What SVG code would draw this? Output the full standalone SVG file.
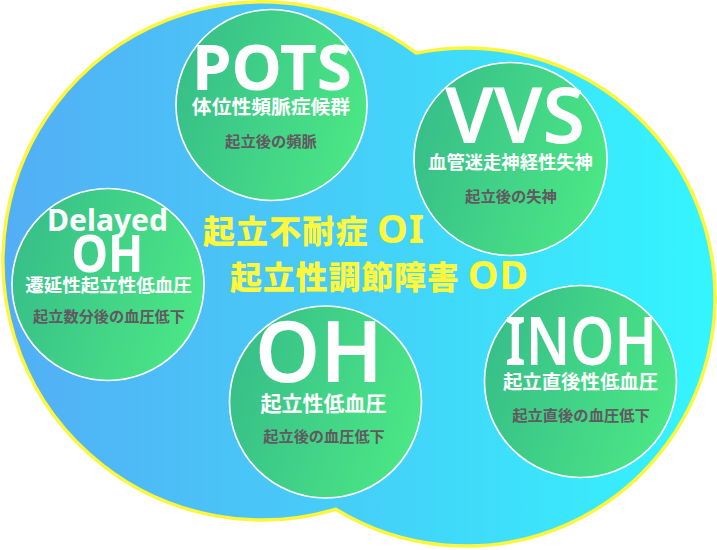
<svg xmlns="http://www.w3.org/2000/svg" width="717" height="550" viewBox="0 0 717 550">
  <defs>
    <linearGradient id="blobGrad" gradientUnits="userSpaceOnUse" x1="0" y1="0" x2="717" y2="0">
      <stop offset="0" stop-color="#53AEF5"/>
      <stop offset="0.5" stop-color="#45CFF8"/>
      <stop offset="1" stop-color="#33F6FE"/>
    </linearGradient>
    <linearGradient id="greenGrad" x1="0" y1="0.3" x2="1" y2="0.6">
      <stop offset="0" stop-color="#37BE89"/>
      <stop offset="1" stop-color="#4BE785"/>
    </linearGradient>
  </defs>
  <style>
    .node-circle { fill: url(#greenGrad); stroke: #FFFFFF; stroke-width: 1.6; }
    .big { font-family: "Noto Sans", "Liberation Sans", sans-serif; fill: #FFFFFF; text-anchor: middle; }
    .sub { font-family: "Noto Sans CJK JP", "Noto Sans", sans-serif; font-weight: 700; fill: #FFFFFF; text-anchor: middle; }
    .desc { font-family: "Noto Sans CJK JP", "Noto Sans", sans-serif; font-weight: 700; fill: #62585F; text-anchor: middle; }
    .title { font-family: "Noto Sans CJK JP", "Noto Sans", sans-serif; font-weight: 900; fill: #FFF73C; font-size: 32px; }
    .latin { font-family: "Noto Sans", "Liberation Sans", sans-serif; font-weight: 700; font-size: 39px; }
  </style>

  <g id="background">
    <path d="M 416.3 53 A 259 259 0 1 0 335.8 509.25 A 249 249 0 1 0 416.3 53 Z" fill="url(#blobGrad)" stroke="#FFF53A" stroke-width="3.5" stroke-linejoin="miter"/>
  </g>

  <g id="titles">
    <text class="title" x="203" y="243" textLength="221">起立不耐症 <tspan class="latin">OI</tspan></text>
    <text class="title" x="230" y="289" textLength="298">起立性調節障害 <tspan class="latin">OD</tspan></text>
  </g>

  <g id="node-pots">
    <circle class="node-circle" cx="271.5" cy="105" r="95.5"/>
    <text class="big" x="272" y="90" font-size="63" font-weight="700" textLength="160" lengthAdjust="spacingAndGlyphs">POTS</text>
    <text class="sub" x="271" y="113.5" font-size="19.8">体位性頻脈症候群</text>
    <text class="desc" x="271" y="147" font-size="15.3">起立後の頻脈</text>
  </g>

  <g id="node-vvs">
    <circle class="node-circle" cx="510.5" cy="159" r="96.5"/>
    <text class="big" x="515" y="143" font-size="77" font-weight="600" textLength="140" lengthAdjust="spacingAndGlyphs">VVS</text>
    <text class="sub" x="510.5" y="168.5" font-size="18.3">血管迷走神経性失神</text>
    <text class="desc" x="511" y="202" font-size="15.3">起立後の失神</text>
  </g>

  <g id="node-delayed-oh">
    <circle class="node-circle" cx="108" cy="284.5" r="96"/>
    <text class="big" x="107.5" y="231" font-size="30" font-weight="700" textLength="121" lengthAdjust="spacingAndGlyphs">Delayed</text>
    <text class="big" x="107.5" y="272" font-size="52" font-weight="700" textLength="72" lengthAdjust="spacingAndGlyphs">OH</text>
    <text class="sub" x="108.5" y="291.5" font-size="18.5">遷延性起立性低血圧</text>
    <text class="desc" x="109" y="322" font-size="15.2">起立数分後の血圧低下</text>
  </g>

  <g id="node-oh">
    <circle class="node-circle" cx="325.5" cy="402" r="96"/>
    <text class="big" x="319" y="382" font-size="84" font-weight="600" textLength="128" lengthAdjust="spacingAndGlyphs">OH</text>
    <text class="sub" x="323.5" y="410.5" font-size="21">起立性低血圧</text>
    <text class="desc" x="324" y="442" font-size="15.2">起立後の血圧低下</text>
  </g>

  <g id="node-inoh">
    <circle class="node-circle" cx="580.5" cy="381.5" r="96"/>
    <text class="big" x="581" y="365" font-size="66" font-weight="600" textLength="152" lengthAdjust="spacingAndGlyphs">INOH</text>
    <text class="sub" x="580.5" y="388.5" font-size="19.4">起立直後性低血圧</text>
    <text class="desc" x="581" y="421" font-size="15.3">起立直後の血圧低下</text>
  </g>

  <g id="connectors"/>
</svg>
